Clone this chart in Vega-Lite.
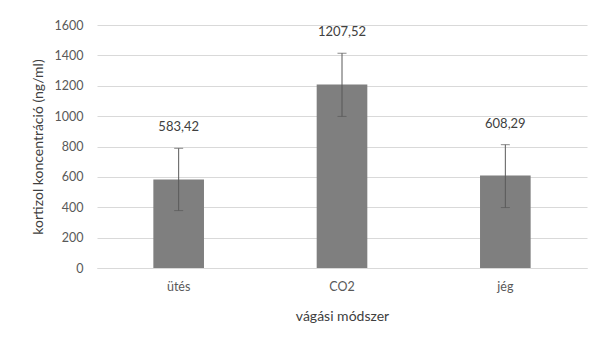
{
  "$schema": "https://vega.github.io/schema/vega-lite/v6.json",
  "autosize": "none",
  "width": 490,
  "height": 243,
  "padding": {"left": 97, "top": 25, "right": 7, "bottom": 72},
  "background": "white",
  "config": {
    "view": {"stroke": null},
    "font": "Lato",
    "axis": {"labelFont": "Lato", "titleFont": "Lato", "titleFontWeight": "normal"},
    "axisY": {
      "values": [0, 200, 400, 600, 800, 1000, 1200, 1400, 1600],
      "format": "d",
      "labelOverlap": false,
      "grid": true,
      "gridColor": "#d9d9d9",
      "domain": false,
      "ticks": false,
      "labelFontSize": 12.5,
      "labelColor": "#595959",
      "labelPadding": 14,
      "titleFontSize": 14,
      "titleColor": "#404040",
      "titlePadding": 9
    }
  },
  "data": {
    "values": [
      {"method": "ütés", "mean": 583.42, "lower": 378, "upper": 788, "label": "583,42"},
      {"method": "CO2", "mean": 1207.52, "lower": 998, "upper": 1414, "label": "1207,52"},
      {"method": "jég", "mean": 608.29, "lower": 398, "upper": 812, "label": "608,29"}
    ]
  },
  "encoding": {
    "x": {
      "field": "method",
      "type": "nominal",
      "sort": ["ütés", "CO2", "jég"],
      "scale": {"paddingInner": 0.69, "paddingOuter": 0.345},
      "axis": {
        "title": "vágási módszer",
        "labelAngle": 0,
        "labelFontSize": 12.5,
        "labelColor": "#595959",
        "labelPadding": 12,
        "ticks": false,
        "domain": true,
        "domainColor": "#d9d9d9",
        "titleFontSize": 14,
        "titleColor": "#404040",
        "titlePadding": 17
      }
    }
  },
  "layer": [
    {
      "mark": {"type": "bar", "color": "#7f7f7f"},
      "encoding": {
        "y": {
          "field": "mean",
          "type": "quantitative",
          "scale": {"domain": [0, 1600], "nice": false},
          "axis": {"title": "kortizol koncentráció (ng/ml)"}
        }
      }
    },
    {
      "mark": {"type": "rule", "color": "#595959", "strokeWidth": 1},
      "encoding": {
        "y": {"field": "lower", "type": "quantitative", "axis": {"title": "kortizol koncentráció (ng/ml)"}},
        "y2": {"field": "upper"}
      }
    },
    {
      "mark": {"type": "tick", "color": "#595959", "thickness": 1, "size": 9, "orient": "horizontal"},
      "encoding": {"y": {"field": "lower", "type": "quantitative", "axis": {"title": "kortizol koncentráció (ng/ml)"}}}
    },
    {
      "mark": {"type": "tick", "color": "#595959", "thickness": 1, "size": 9, "orient": "horizontal"},
      "encoding": {"y": {"field": "upper", "type": "quantitative", "axis": {"title": "kortizol koncentráció (ng/ml)"}}}
    },
    {
      "mark": {"type": "text", "color": "#404040", "fontSize": 13, "baseline": "middle", "dy": -21},
      "encoding": {
        "y": {"field": "upper", "type": "quantitative", "axis": {"title": "kortizol koncentráció (ng/ml)"}},
        "text": {"field": "label"}
      }
    }
  ]
}
